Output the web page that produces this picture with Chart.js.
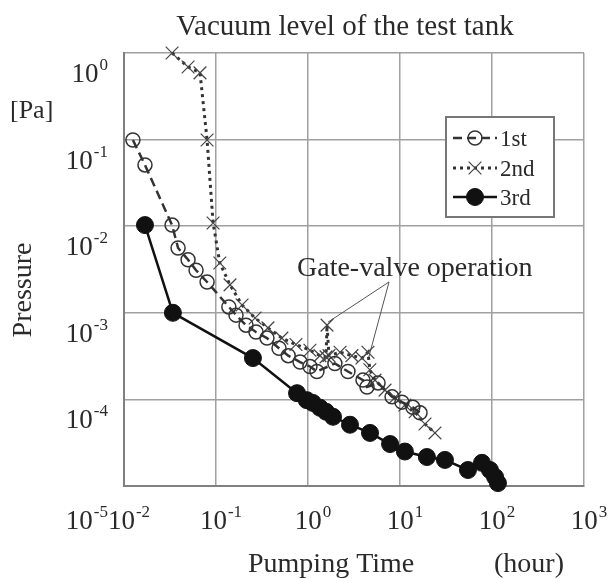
<!DOCTYPE html>
<html>
<head>
<meta charset="utf-8">
<script src="https://cdn.jsdelivr.net/npm/chart.js@4/dist/chart.umd.min.js"></script>
<style>
  html, body { margin: 0; padding: 0; background: #fff; }
  #wrap { width: 608px; height: 579px; }
</style>
</head>
<body>
<div id="wrap"><canvas id="c" width="608" height="579"></canvas></div>
<script>
// 1st run (open circles, dashed)
const time1 = [0.0125, 0.0169, 0.0333, 0.0387, 0.0497, 0.0607, 0.080, 0.138, 0.165, 0.212, 0.272, 0.358, 0.484, 0.61, 0.82, 1.05, 1.25, 1.96, 2.72, 3.96, 4.38, 5.77, 8.2, 10.5, 13.8, 16.5];
const pres1 = [0.099, 0.051, 0.0103, 0.0056, 0.0041, 0.0031, 0.00227, 0.00117, 9.4e-4, 7.2e-4, 6.0e-4, 5.1e-4, 3.9e-4, 3.2e-4, 2.7e-4, 2.4e-4, 2.1e-4, 2.6e-4, 2.1e-4, 1.67e-4, 1.39e-4, 1.55e-4, 1.07e-4, 9.3e-5, 8.1e-5, 7.0e-5];

// 2nd run (crosses, dotted)
const time2 = [0.0333, 0.0497, 0.067, 0.080, 0.093, 0.110, 0.142, 0.192, 0.266, 0.367, 0.52, 0.74, 1.05, 1.35, 1.57, 1.61, 1.69, 2.23, 3.0, 3.86, 4.49, 4.7, 5.35, 6.87, 8.8, 11.3, 14.6, 18.7, 24];
const pres2 = [1.0, 0.69, 0.59, 0.099, 0.0109, 0.00376, 0.0021, 0.00123, 8.7e-4, 6.7e-4, 5.1e-4, 4.3e-4, 3.7e-4, 3.2e-4, 3.1e-4, 7.2e-4, 3.2e-4, 3.5e-4, 3.2e-4, 3.0e-4, 3.5e-4, 2.2e-4, 1.67e-4, 1.28e-4, 1.05e-4, 8.6e-5, 7.2e-5, 5.2e-5, 4.1e-5];

// 3rd run (filled circles, solid)
const time3 = [0.0169, 0.034, 0.252, 0.76, 0.97, 1.13, 1.35, 1.57, 1.87, 2.86, 4.72, 7.8, 11.3, 19.6, 30.8, 54.8, 77.8, 95, 108, 116];
const pres3 = [0.0103, 0.001, 3.0e-4, 1.18e-4, 9.8e-5, 9.1e-5, 8.0e-5, 7.2e-5, 6.3e-5, 5.1e-5, 4.1e-5, 3.05e-5, 2.5e-5, 2.16e-5, 2.0e-5, 1.53e-5, 1.85e-5, 1.53e-5, 1.27e-5, 1.08e-5];

// "Gate-valve operation" pointer lines: end1 -> apex -> end2
const gateTime = [1.65, 7.6, 4.49];
const gatePres = [7.8e-4, 2.27e-3, 2.85e-4];

const xTickExp = [-2, -1, 0, 1, 2, 3];
const yTickExp = [0, -1, -2, -3, -4, -5];
const legendLabels = ['1st', '2nd', '3rd'];

const SERIF = '"Liberation Serif", "Times New Roman", serif';
const INK = '#2a2a2a';

function pts(xs, ys) {
  return xs.map((x, i) => ({ x: x, y: ys[i] }));
}

// "10" with a superscript exponent
function powWidth(ctx, exp) {
  ctx.font = '27px ' + SERIF;
  const a = ctx.measureText('10').width;
  ctx.font = '17px ' + SERIF;
  return a + ctx.measureText(String(exp)).width + 1;
}
function drawPow(ctx, exp, left, base) {
  ctx.font = '27px ' + SERIF;
  ctx.fillText('10', left, base);
  const a = ctx.measureText('10').width;
  ctx.font = '17px ' + SERIF;
  ctx.fillText(String(exp), left + a + 1, base - 12);
}

const textPlugin = {
  id: 'texts',
  afterDraw(chart) {
    const ctx = chart.ctx;
    const xs = chart.scales.x, ys = chart.scales.y;
    ctx.save();
    ctx.fillStyle = INK;
    ctx.textBaseline = 'alphabetic';
    ctx.textAlign = 'left';

    // x tick labels
    xTickExp.forEach(e => {
      const px = xs.getPixelForValue(Math.pow(10, e));
      const w = powWidth(ctx, e);
      drawPow(ctx, e, px + 5 - w / 2, 529);
    });
    // y tick labels
    yTickExp.forEach((e, i) => {
      const py = ys.getPixelForValue(Math.pow(10, e));
      const w = powWidth(ctx, e);
      const base = i === yTickExp.length - 1 ? 529 : py + 29;
      drawPow(ctx, e, 108 - w, base);
    });

    // title and axis texts
    ctx.font = '29px ' + SERIF;
    ctx.textAlign = 'center';
    ctx.fillText('Vacuum level of the test tank', 345, 35);
    ctx.textAlign = 'left';
    ctx.font = '28px ' + SERIF;
    ctx.fillText('Pumping Time', 248, 572);
    ctx.fillText('(hour)', 494, 572);
    ctx.font = '26px ' + SERIF;
    ctx.fillText('[Pa]', 10, 118);
    ctx.font = '28px ' + SERIF;
    ctx.fillText('Gate-valve operation', 297, 276);
    ctx.save();
    ctx.translate(31, 290);
    ctx.rotate(-Math.PI / 2);
    ctx.textAlign = 'center';
    ctx.fillText('Pressure', 0, 0);
    ctx.restore();

    // legend box
    ctx.fillStyle = '#fff';
    ctx.fillRect(446, 117, 108, 100);
    ctx.strokeStyle = '#777';
    ctx.lineWidth = 2;
    ctx.strokeRect(446, 117, 108, 100);
    const rows = [138, 168, 197];
    chart.data.datasets.slice(0, 3).forEach((ds, i) => {
      const y = rows[i];
      ctx.strokeStyle = ds.borderColor;
      ctx.lineWidth = ds.borderWidth;
      ctx.setLineDash(ds.borderDash || []);
      ctx.beginPath();
      ctx.moveTo(453, y);
      ctx.lineTo(497, y);
      ctx.stroke();
      ctx.setLineDash([]);
      ctx.fillStyle = ds.pointBackgroundColor;
      ctx.strokeStyle = ds.pointBorderColor;
      ctx.lineWidth = ds.pointBorderWidth;
      Chart.helpers.drawPoint(ctx, {
        pointStyle: ds.pointStyle,
        radius: ds.pointRadius,
        borderWidth: ds.pointBorderWidth,
        rotation: 0
      }, 475, y);
      ctx.fillStyle = INK;
      ctx.font = '23px ' + SERIF;
      ctx.fillText(legendLabels[i], 500, y + 8);
    });
    ctx.restore();
  }
};

function decades(exps) {
  return function (scale) {
    scale.ticks = exps.map(e => ({ value: Math.pow(10, e) }));
  };
}

new Chart(document.getElementById('c'), {
  type: 'line',
  data: {
    datasets: [
      {
        label: legendLabels[0],
        data: pts(time1, pres1),
        borderColor: '#333',
        borderWidth: 2.5,
        borderDash: [9, 5],
        pointStyle: 'circle',
        pointRadius: 7,
        pointBorderWidth: 1.5,
        pointBorderColor: '#333',
        pointBackgroundColor: 'rgba(255,255,255,0)',
        clip: false
      },
      {
        label: legendLabels[1],
        data: pts(time2, pres2),
        borderColor: '#333',
        borderWidth: 3,
        borderDash: [3, 4],
        pointStyle: 'crossRot',
        pointRadius: 9,
        pointBorderWidth: 1.2,
        pointBorderColor: '#444',
        pointBackgroundColor: '#444',
        clip: false
      },
      {
        label: legendLabels[2],
        data: pts(time3, pres3),
        borderColor: '#111',
        borderWidth: 2.5,
        pointStyle: 'circle',
        pointRadius: 8.5,
        pointBorderWidth: 1,
        pointBorderColor: '#111',
        pointBackgroundColor: '#111',
        clip: false
      },
      {
        label: 'gate',
        data: pts(gateTime, gatePres),
        borderColor: '#555',
        borderWidth: 1,
        pointRadius: 0,
        clip: false
      }
    ]
  },
  options: {
    responsive: false,
    animation: false,
    events: [],
    layout: { padding: { left: 124, right: 24, top: 53, bottom: 93 } },
    plugins: {
      legend: { display: false },
      title: { display: false },
      tooltip: { enabled: false }
    },
    scales: {
      x: {
        type: 'logarithmic',
        min: 0.01,
        max: 1000,
        afterBuildTicks: decades(xTickExp),
        ticks: { display: false },
        grid: { color: '#a0a0a0', lineWidth: 1.5, drawTicks: false },
        border: { display: true, color: '#808080', width: 2 }
      },
      y: {
        type: 'logarithmic',
        min: 1e-5,
        max: 1,
        afterBuildTicks: decades(yTickExp),
        ticks: { display: false },
        grid: { color: '#a0a0a0', lineWidth: 1.5, drawTicks: false },
        border: { display: true, color: '#808080', width: 2 }
      }
    }
  },
  plugins: [textPlugin]
});
</script>
</body>
</html>
